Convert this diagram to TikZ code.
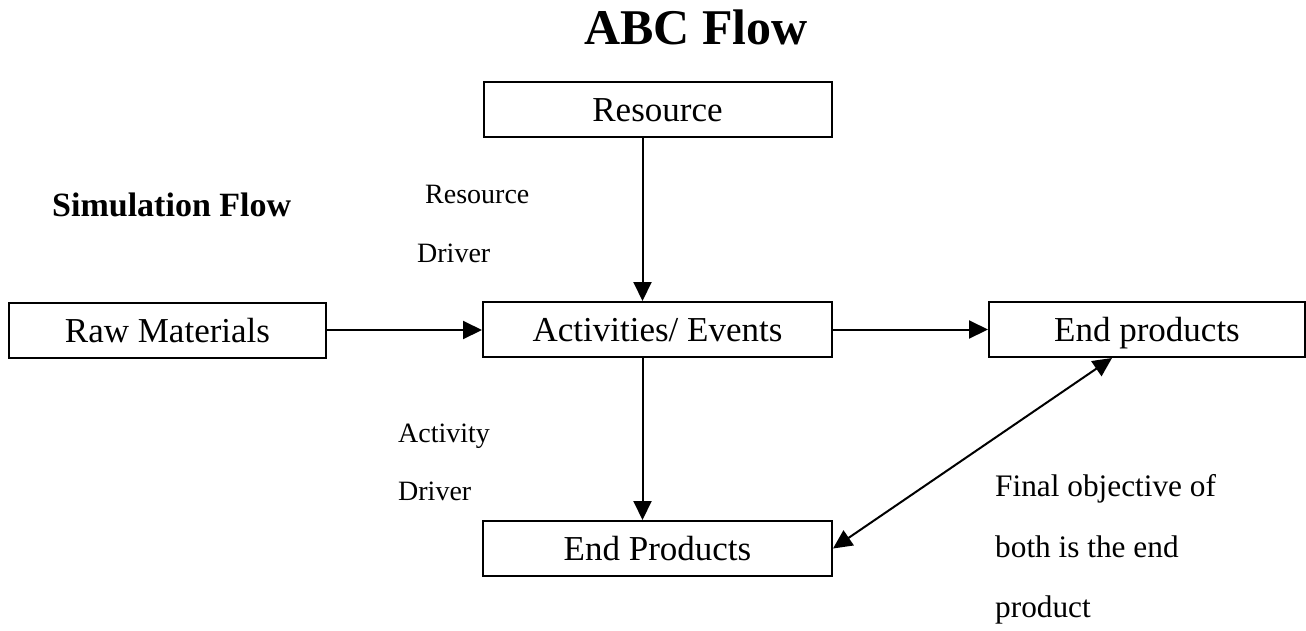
\documentclass[tikz,border=0pt]{standalone}
\usepackage{fontspec}
\setmainfont{Liberation Serif}
\usetikzlibrary{arrows.meta}
\begin{document}
\begin{tikzpicture}[x=1pt,y=-1pt,
  box/.style={draw, line width=2pt, minimum width=#1, minimum height=55pt, inner sep=0pt,
    text height=24pt, text depth=0pt, font=\fontsize{35}{40}\selectfont},
  lbl/.style={anchor=base west, inner sep=0pt, font=\fontsize{28}{32}\selectfont},
  note/.style={anchor=base west, inner sep=0pt, font=\fontsize{31.3}{36}\selectfont},
  tip/.tip={Triangle[length=19pt,width=18pt]},
  arr/.style={line width=2pt, -tip},
  darr/.style={line width=2pt, tip-tip}]
\useasboundingbox (0,0) rectangle (1306,630);

\node[anchor=base, inner sep=0pt, font=\fontsize{50}{56}\selectfont\bfseries] (title) at (696,44) {ABC Flow};
\node[anchor=base west, inner sep=0pt, font=\fontsize{34}{40}\selectfont\bfseries] (sim) at (52,216) {Simulation Flow};

\node[box=348pt] (res) at (657.5,109) {Resource};
\node[box=349pt] (act) at (657.5,329.5) {Activities/ Events};
\node[box=349pt] (endb) at (657.5,548.5) {End Products};
\node[box=317pt] (raw) at (167.5,330) {Raw Materials};
\node[box=316pt] (endr) at (1147,329.5) {End products};

\node[lbl] (rd1) at (425,203) {Resource};
\node[lbl] (rd2) at (417,262) {Driver};
\node[lbl] (ad1) at (398,442) {Activity};
\node[lbl] (ad2) at (398,500) {Driver};

\node[note] (f1) at (995,496) {Final objective of};
\node[note] (f2) at (995,557) {both is the end};
\node[note] (f3) at (995,617) {product};

\draw[arr] ([xshift=-15pt]res.south) -- ([xshift=-15pt]act.north);
\draw[arr] ([xshift=-15pt]act.south) -- ([xshift=-15pt]endb.north);
\draw[arr] (raw.east) -- (act.west |- raw.east);
\draw[arr] (act.east) -- (endr.west);
\draw[darr] ([xshift=-35pt]endr.south) -- (endb.east);
\end{tikzpicture}
\end{document}
